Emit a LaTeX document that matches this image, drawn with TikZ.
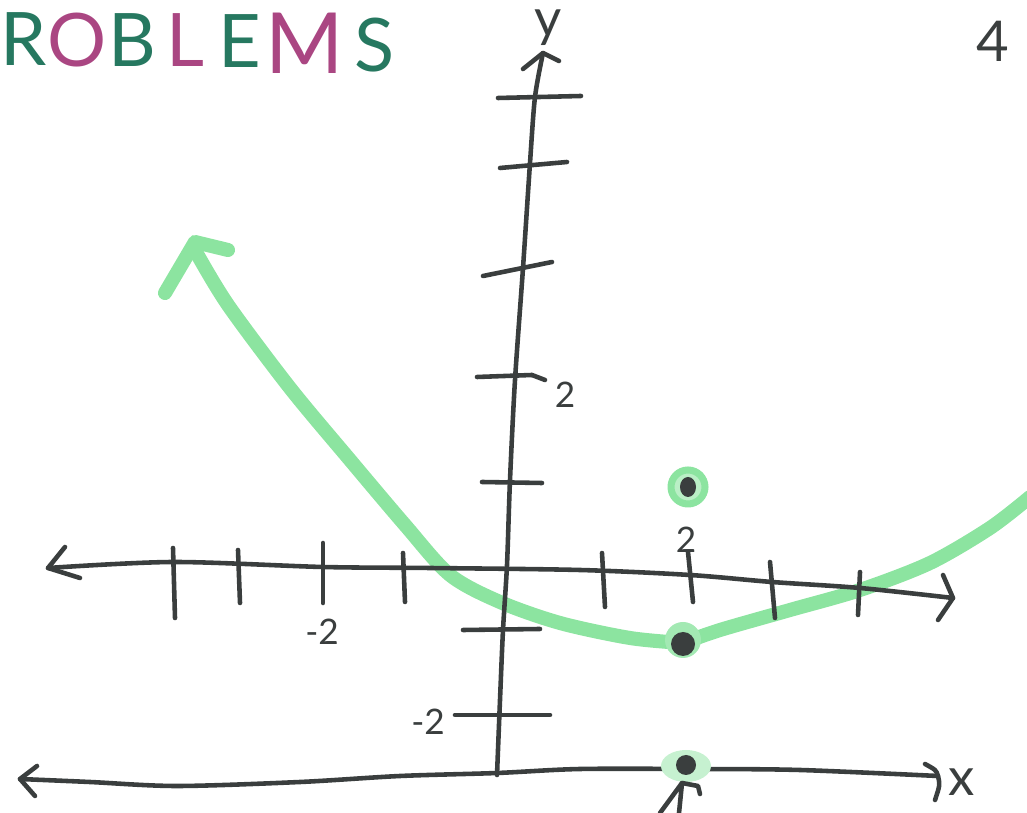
\documentclass[tikz,border=0pt]{standalone}
\usepackage{fontspec}
\setmainfont{Lato}
\usepackage{tikz}
\usetikzlibrary{arrows.meta}
\usepackage{xcolor}
\definecolor{ink}{RGB}{58,62,62}
\definecolor{hlgreen}{RGB}{140,228,160}
\definecolor{titlegreen}{RGB}{38,120,96}
\definecolor{titlepink}{RGB}{170,70,130}

\begin{document}
\begin{tikzpicture}[x=0.01cm,y=-0.01cm,line cap=round,line join=round,
  pen/.style={ink,line width=1.3pt},
  hl/.style={hlgreen,line width=4pt},
  ticklabel/.style={text=ink,inner sep=0pt,font=\fontsize{10}{10}\selectfont},
  titleletter/.style={anchor=base,inner sep=0pt,font=\fontsize{21}{21}\selectfont}]
\useasboundingbox (0,0) rectangle (1027,813);
% heading
\node[titleletter,titlegreen] (r) at (24,66) {R};
\node[titleletter,titlepink] (o) at (77,67) {O};
\node[titleletter,titlegreen] (b) at (132,67) {B};
\node[titleletter,titlepink] (l) at (185,67) {L};
\node[titleletter,titlegreen] (e) at (240,68) {E};
\node[titleletter,titlepink,font=\fontsize{24}{24}\selectfont] (m) at (305,74) {M};
\node[titleletter,titlegreen] (s) at (375,72) {S};
\node[anchor=base,text=ink,inner sep=0pt,font=\fontsize{16}{16}\selectfont] (pg) at (993,62) {4};
% the curve
\draw[hl] plot[smooth] coordinates {(196,252) (228,305) (290,388) (350,460)
  (405,525) (450,575) (500,602) (560,623) (630,638) (683,643)};
\draw[hl] plot[smooth] coordinates {(683,643) (720,630) (790,610) (860,590)
  (930,563) (990,528) (1030,497)};
\draw[hl] (165,293) -- (195,242) -- (228,250);
% x axis
\coordinate (xl) at (48,568);
\coordinate (xr) at (953,598);
\draw[pen] plot[smooth] coordinates {(xl) (173,562) (323,567) (430,568) (580,570)
  (690,575) (772,582) (860,588) (xr)};
\draw[pen] (65,547) -- (xl) -- (80,578);
\draw[pen] (943,575) -- (xr) -- (938,620);
\foreach \a/\b/\c/\d in {173/548/175/618, 238/550/240/603, 323/543/323/603,
  403/553/405/602, 602/553/605/607, 688/552/693/602, 770/562/775/618, 860/572/858/615}
  \draw[pen] (\a,\b) -- (\c,\d);
\node[ticklabel] (xm2) at (322,632) {-2};
\node[ticklabel] (xp2) at (686,540) {2};
% y axis
\coordinate (yb) at (497,775);
\coordinate (yt) at (543,53);
\draw[pen] plot[smooth] coordinates {(yb) (500,700) (503,630) (507,565) (510,480)
  (515,380) (523,268) (530,163) (535,97) (yt)};
\draw[pen] (523,69) -- (yt) -- (559,61);
\foreach \a/\b/\c/\d in {498/98/581/96, 500/168/567/162, 483/276/552/262,
  477/377/532/375, 482/482/542/483, 463/630/540/629, 455/715/550/715}
  \draw[pen] (\a,\b) -- (\c,\d);
\draw[pen] (532,375) -- (545,380);
\node[ticklabel] (yp2) at (565,395) {2};
\node[ticklabel] (ym2) at (428,722) {-2};
\node[text=ink,inner sep=0pt,font=\fontsize{15}{15}\selectfont] (ylab) at (548,28) {y};
% number line
\coordinate (nl) at (20,779);
\coordinate (nr) at (938,776);
\draw[pen] plot[smooth] coordinates {(nl) (90,782) (177,786) (300,782) (400,776)
  (497,773) (580,769) (697,769) (800,770) (nr)};
\draw[pen] (37,766) -- (nl) -- (35,796);
\draw[pen] (925,764) .. controls (936,770) .. (nr) .. controls (940,785) .. (935,800);
\node[text=ink,inner sep=0pt,font=\fontsize{15}{15}\selectfont] (xlab) at (962,782) {x};
% points
\fill[hlgreen!60] (688,487) circle (18);
\draw[hlgreen,line width=2pt] (688,487) circle (17);
\fill[ink] (688,487) ellipse (8 and 10);
\fill[hlgreen!80] (683,640) circle (18);
\fill[ink] (683,644) circle (12);
\fill[hlgreen!50] (686,766) ellipse (25 and 16);
\fill[ink] (686,765) circle (10);
\draw[pen] (660,813) -- (682,783) -- (679,813);
\draw[pen] (682,783) -- (698,786) -- (700,794);
\end{tikzpicture}
\end{document}
